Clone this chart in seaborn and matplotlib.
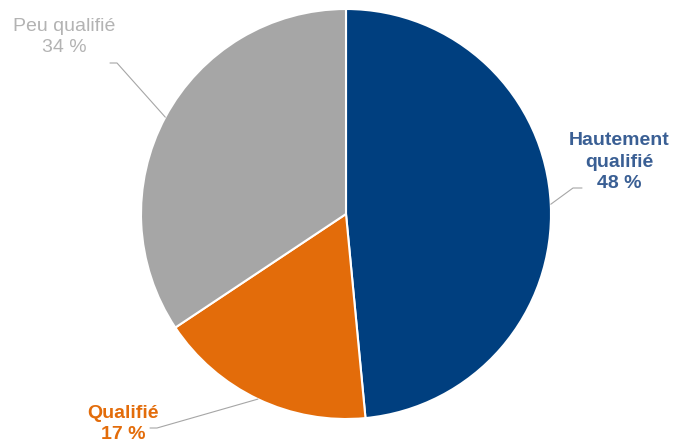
import numpy as np
import matplotlib
matplotlib.use("Agg")
import matplotlib.pyplot as plt
import seaborn as sns

# données (parts en %)
categories = ["Hautement\nqualifié", "Qualifié", "Peu qualifié"]
values = [48, 17, 34]
colors = ["#003f7f", "#e36c0a", "#a6a6a6"]
label_colors = ["#3a5f94", "#e36c0a", "#b3b3b3"]
label_weights = ["bold", "bold", "normal"]

sns.set_theme(style="white")
plt.rcParams["font.family"] = ["Liberation Sans", "DejaVu Sans"]

W, H = 673, 445
CX, CY, R = 346, 214, 205


def px(x, y):
    # pixel -> coordonnées données (rayon du camembert = 1)
    return (x - CX) / R, (CY - y) / R


fig = plt.figure(figsize=(W / 100, H / 100), dpi=100)
ax = fig.add_axes([0, 0, 1, 1])

wedges, _ = ax.pie(values, colors=colors, startangle=90, counterclock=False,
                   wedgeprops=dict(edgecolor="white", linewidth=1.5))
ax.set_xlim(px(0, 0)[0], px(W, 0)[0])
ax.set_ylim(px(0, H)[1], px(0, 0)[1])
ax.set_aspect("equal")
ax.axis("off")

# positions des étiquettes et coudes des lignes de rappel (pixels)
text_pos = [(619, 162), (123, 424), (64, 37)]
elbows = [[(582, 188), (573, 188)], [(150, 428), (157, 428)], [(110, 63), (117, 63)]]

for w, cat, v, col, wt, tp, elb in zip(wedges, categories, values,
                                       label_colors, label_weights, text_pos, elbows):
    mid = np.deg2rad((w.theta1 + w.theta2) / 2)
    edge = (np.cos(mid), np.sin(mid))
    pts = [px(*p) for p in elb] + [edge]
    ax.plot([p[0] for p in pts], [p[1] for p in pts], color="#a6a6a6", lw=0.8)
    tx, ty = px(*tp)
    ax.text(tx, ty, f"{cat}\n{v} %", ha="center", va="center", fontsize=14,
            color=col, fontweight=wt, linespacing=1.32)

fig.savefig("out.png", dpi=100)
